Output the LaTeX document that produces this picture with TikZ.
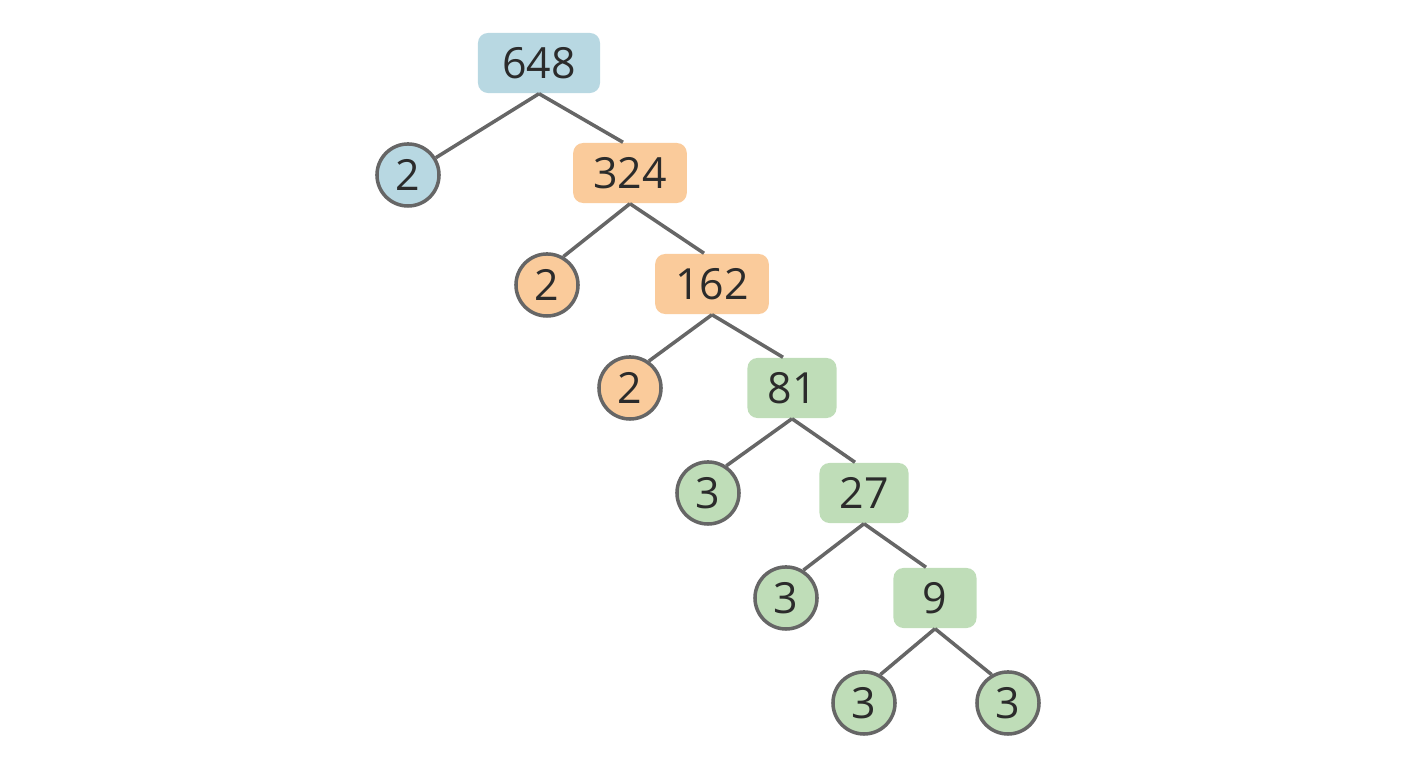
\documentclass[tikz,border=0pt]{standalone}
\usepackage{fontspec}
\setmainfont{Open Sans}
\usepackage{xcolor}
\usepackage{tikz}
\definecolor{boxblue}{HTML}{B8D8E2}
\definecolor{boxorange}{HTML}{FACB9B}
\definecolor{boxgreen}{HTML}{BFDDB8}
\definecolor{edgegray}{HTML}{666666}
\definecolor{digitgray}{HTML}{2B2B2B}
\begin{document}
\begin{tikzpicture}[x=0.01cm,y=-0.01cm,
    every node/.style={text=digitgray,font=\fontsize{12.2}{15}\selectfont},
    factor/.style={draw=edgegray,line width=1pt,circle,minimum size=0.62cm,inner sep=0pt},
    quotient/.style={rounded corners=0.1cm,minimum height=0.6cm,minimum width=0.83cm,inner xsep=0.2cm},
    branch/.style={draw=edgegray,line width=1pt}]
      \useasboundingbox (0,0) rectangle (1408,768);
      % quotients
      \node [quotient,fill=boxblue,minimum width=1.22cm] (q648) at (539,63) {648};
      \node [quotient,fill=boxorange] (q324) at (630,173) {324};
      \node [quotient,fill=boxorange] (q162) at (712,284) {162};
      \node [quotient,fill=boxgreen] (q81) at (792,388) {81};
      \node [quotient,fill=boxgreen] (q27) at (864,493) {27};
      \node [quotient,fill=boxgreen] (q9) at (935,598) {9};
      % prime factors
      \node [factor,fill=boxblue] (f1) at (408,175) {2};
      \node [factor,fill=boxorange] (f2) at (547,285) {2};
      \node [factor,fill=boxorange] (f3) at (630,388) {2};
      \node [factor,fill=boxgreen] (f4) at (708,493) {3};
      \node [factor,fill=boxgreen] (f5) at (786,598) {3};
      \node [factor,fill=boxgreen] (f6) at (864,703) {3};
      \node [factor,fill=boxgreen] (f7) at (1008,703) {3};
      % branches
      \draw [branch] (q648.south) -- (f1);
      \draw [branch] (q648.south) -- ([xshift=-0.07cm]q324.north);
      \draw [branch] (q324.south) -- (f2.60);
      \draw [branch] (q324.south) -- ([xshift=-0.08cm]q162.north);
      \draw [branch] (q162.south) -- (f3.55);
      \draw [branch] (q162.south) -- ([xshift=-0.09cm]q81.north);
      \draw [branch] (q81.south) -- (f4.56);
      \draw [branch] (q81.south) -- ([xshift=-0.09cm]q27.north);
      \draw [branch] (q27.south) -- (f5.58);
      \draw [branch] (q27.south) -- ([xshift=-0.09cm]q9.north);
      \draw [branch] (q9.south) -- (f6.60);
      \draw [branch] (q9.south) -- (f7.120);
    \end{tikzpicture}
\end{document}
